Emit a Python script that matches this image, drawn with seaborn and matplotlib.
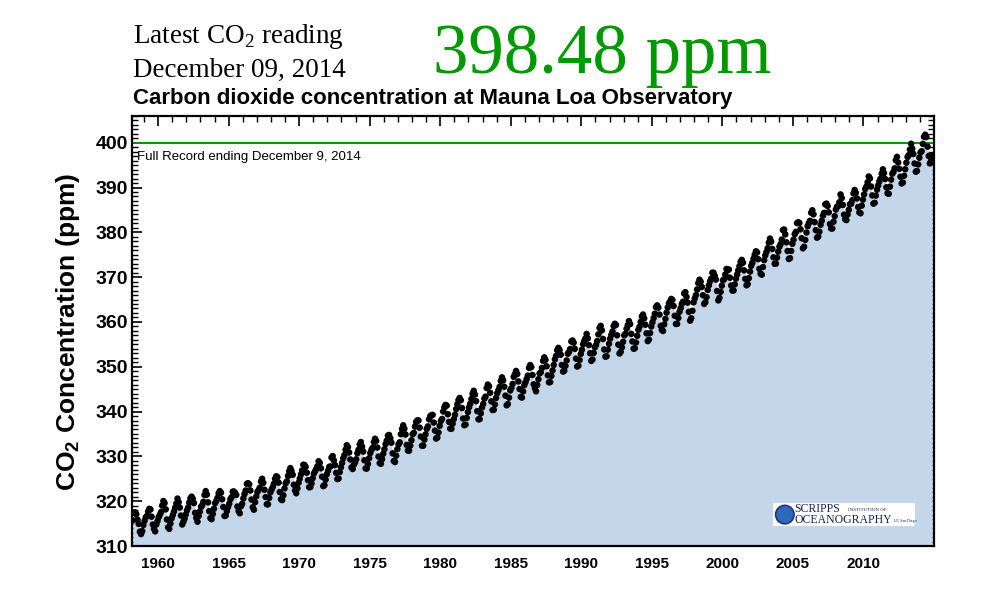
import numpy as np
import pandas as pd
import matplotlib
matplotlib.use("Agg")
import matplotlib.pyplot as plt
from matplotlib.patches import Rectangle, Ellipse
import seaborn as sns

# monthly mean CO2 at Mauna Loa (ppm), March 1958 .. November 2014
co2_ppm = [
    315.71, 317.45, 317.50, 317.10, 315.86, 314.93, 313.20, 312.66, 313.33, 314.67,  # 1958 (Mar-Dec)
    315.62, 316.38, 316.71, 317.72, 318.29, 318.15, 316.54, 314.80, 313.84, 313.26, 314.80, 315.58,
    316.43, 316.97, 317.58, 319.02, 320.03, 319.59, 318.18, 315.91, 314.16, 313.83, 315.00, 316.19,
    316.93, 317.70, 318.54, 319.48, 320.58, 319.77, 318.57, 316.79, 314.80, 315.38, 316.10, 317.01,
    317.94, 318.56, 319.68, 320.63, 321.01, 320.55, 319.58, 317.40, 316.26, 315.42, 316.69, 317.69,
    318.74, 319.08, 319.86, 321.39, 322.25, 321.47, 319.74, 317.77, 316.21, 315.99, 317.12, 318.31,
    319.57, 320.07, 320.73, 321.77, 322.25, 321.89, 320.44, 318.70, 316.70, 316.79, 317.79, 318.71,
    319.44, 320.44, 320.89, 322.13, 322.16, 321.87, 321.39, 318.81, 317.81, 317.30, 318.87, 319.42,
    320.62, 321.59, 322.39, 323.87, 324.01, 323.75, 322.39, 320.37, 318.64, 318.10, 319.79, 321.08,
    322.07, 322.50, 323.04, 324.42, 325.00, 324.09, 322.55, 320.92, 319.31, 319.31, 320.72, 321.96,
    322.57, 323.15, 323.89, 325.02, 325.57, 325.36, 324.14, 322.03, 320.41, 320.25, 321.31, 322.84,
    324.00, 324.42, 325.64, 326.66, 327.38, 326.70, 325.89, 323.67, 322.38, 321.78, 322.85, 324.11,
    325.03, 325.99, 326.87, 328.13, 328.07, 327.66, 326.35, 324.69, 323.10, 323.16, 323.98, 325.13,
    326.17, 326.68, 327.18, 327.78, 328.92, 328.57, 327.34, 325.46, 323.36, 323.57, 324.80, 326.01,
    326.77, 327.63, 327.75, 329.72, 330.07, 329.09, 328.05, 326.32, 324.93, 325.06, 326.50, 327.55,
    328.54, 329.56, 330.30, 331.50, 332.48, 332.07, 330.87, 329.31, 327.51, 327.18, 328.16, 328.64,
    329.35, 330.71, 331.48, 332.65, 333.20, 332.16, 331.07, 329.12, 327.32, 327.28, 328.30, 329.58,
    330.73, 331.46, 331.90, 333.17, 333.94, 333.45, 331.97, 329.95, 328.50, 328.34, 329.37, 330.58,
    331.59, 332.75, 333.52, 334.64, 334.77, 334.00, 333.06, 330.68, 328.95, 328.75, 330.15, 331.62,
    332.66, 333.13, 334.95, 336.13, 336.93, 336.17, 334.88, 332.56, 331.29, 331.27, 332.41, 333.60,
    334.95, 335.25, 336.66, 337.69, 338.03, 338.01, 336.41, 334.41, 332.37, 332.41, 333.75, 334.90,
    336.14, 336.69, 338.27, 338.96, 339.21, 339.26, 337.54, 335.75, 333.98, 334.19, 335.31, 336.81,
    337.90, 338.34, 340.01, 340.93, 341.48, 341.33, 339.40, 337.70, 336.19, 336.15, 337.27, 338.32,
    339.29, 340.55, 341.62, 342.53, 343.03, 342.54, 340.78, 338.44, 336.95, 337.08, 338.58, 339.88,
    340.96, 341.73, 342.81, 343.97, 344.63, 343.79, 342.32, 340.09, 338.28, 338.29, 339.60, 340.90,
    341.68, 342.90, 343.33, 345.25, 346.03, 345.63, 344.19, 342.27, 340.35, 340.38, 341.59, 343.05,
    344.10, 344.79, 345.52, 346.84, 347.63, 346.97, 345.53, 343.55, 341.40, 341.67, 343.10, 344.70,
    345.21, 346.16, 347.74, 348.34, 349.06, 348.38, 346.72, 345.02, 343.27, 343.13, 344.49, 345.88,
    346.56, 347.28, 348.01, 349.77, 350.38, 349.93, 348.16, 346.08, 345.22, 344.51, 345.93, 347.21,
    348.52, 348.73, 349.73, 351.31, 352.09, 351.53, 350.11, 348.08, 346.52, 346.59, 347.96, 349.16,
    350.39, 351.64, 352.41, 353.69, 354.21, 353.72, 352.69, 350.40, 348.92, 349.13, 350.20, 351.41,
    352.91, 353.27, 353.96, 355.64, 355.86, 355.37, 353.99, 351.81, 350.05, 350.25, 351.49, 352.85,
    353.80, 355.04, 355.73, 356.32, 357.32, 356.34, 354.84, 353.01, 351.31, 351.62, 353.07, 354.33,
    354.84, 355.73, 357.23, 358.66, 359.13, 358.13, 356.19, 353.85, 352.25, 352.35, 353.81, 355.12,
    356.25, 357.11, 357.86, 359.09, 359.59, 359.33, 357.01, 354.94, 352.96, 353.32, 354.32, 355.57,
    357.00, 357.31, 358.47, 359.27, 360.19, 359.52, 357.33, 355.64, 354.03, 354.12, 355.41, 356.91,
    358.24, 358.92, 359.99, 361.23, 361.65, 360.81, 359.38, 357.46, 355.73, 356.07, 357.53, 358.98,
    359.92, 360.86, 361.83, 363.30, 363.69, 363.19, 361.64, 359.12, 358.17, 357.99, 359.45, 360.68,
    362.07, 363.24, 364.17, 364.57, 365.13, 364.92, 363.55, 361.38, 359.54, 359.58, 360.89, 362.24,
    363.09, 364.03, 364.51, 366.35, 366.64, 365.59, 364.31, 362.25, 360.29, 360.82, 362.49, 364.38,
    365.26, 365.98, 367.24, 368.66, 369.42, 368.99, 367.82, 365.95, 364.02, 364.40, 365.52, 367.13,
    368.18, 369.07, 369.68, 370.99, 370.96, 370.30, 369.45, 366.90, 364.81, 365.37, 366.72, 368.10,
    369.29, 369.54, 370.60, 371.82, 371.58, 371.70, 369.86, 368.13, 367.00, 367.03, 368.37, 369.67,
    370.59, 371.51, 372.43, 373.37, 373.85, 373.22, 371.50, 369.61, 368.18, 368.45, 369.76, 371.24,
    372.53, 373.20, 374.12, 375.02, 375.76, 375.52, 374.01, 371.85, 370.75, 370.55, 372.25, 373.79,
    374.88, 375.64, 376.45, 377.73, 378.60, 377.93, 376.28, 374.41, 372.98, 373.00, 374.35, 375.69,
    376.79, 377.36, 378.39, 380.50, 380.62, 379.55, 377.76, 375.83, 374.05, 374.22, 375.84, 377.44,
    378.34, 379.61, 380.08, 382.05, 382.24, 382.08, 380.67, 378.67, 376.42, 376.80, 378.31, 379.96,
    381.37, 382.02, 382.56, 384.37, 384.92, 384.03, 382.28, 380.48, 378.81, 379.06, 380.14, 381.66,
    382.58, 383.71, 384.34, 386.23, 386.41, 385.87, 384.45, 381.84, 380.86, 380.86, 382.36, 383.61,
    385.07, 385.72, 385.85, 386.71, 388.45, 387.64, 386.10, 383.95, 382.91, 382.73, 383.96, 385.02,
    386.26, 386.39, 387.16, 388.67, 389.45, 388.82, 387.56, 385.65, 384.46, 384.26, 385.95, 387.30,
    388.45, 389.68, 390.20, 391.17, 392.46, 392.03, 390.22, 388.23, 386.40, 386.59, 388.19, 389.51,
    390.46, 391.33, 391.96, 393.11, 394.05, 393.21, 391.89, 390.04, 388.72, 388.59, 390.19, 391.75,
    393.09, 393.48, 394.27, 396.09, 396.84, 395.57, 394.17, 392.38, 390.90, 391.11, 392.63, 394.07,
    395.53, 396.82, 397.22, 398.47, 399.76, 398.66, 397.48, 395.35, 393.53, 393.69, 395.15, 396.64,
    397.79, 398.10, 399.74, 401.33, 401.78, 401.28, 399.11, 397.03, 395.38, 395.98, 397.12,          # 2014 (Jan-Nov)
]
first_month = "1958-03"
latest_value = "398.48 ppm"
latest_date = "December 09, 2014"
reference_level = 400
x_major = [1960, 1965, 1970, 1975, 1980, 1985, 1990, 1995, 2000, 2005, 2010]
y_major = [310, 320, 330, 340, 350, 360, 370, 380, 390, 400]

months = pd.date_range(first_month, periods=len(co2_ppm), freq="MS")
df = pd.DataFrame({
    "year": months.year + (months.month - 0.5) / 12,
    "co2": co2_ppm,
})

sns.set_theme(style="ticks", rc={"text.color": "black", "axes.labelcolor": "black",
                                 "xtick.color": "black", "ytick.color": "black"})
plt.rcParams["font.family"] = ["Liberation Sans", "DejaVu Sans"]
serif = ["Liberation Serif", "DejaVu Serif"]

fig = plt.figure(figsize=(10, 6), dpi=100)
ax = fig.add_axes([0.132, 0.09, 0.802, 0.717])

ax.fill_between(df["year"], 310, df["co2"], color="#c4d6ea", lw=0, zorder=1)
ax.axhline(reference_level, color="#009900", lw=1.4, zorder=2)
sns.scatterplot(data=df, x="year", y="co2", ax=ax, color="black", s=22,
                edgecolor="none", zorder=3, legend=False)

ax.set_xlim(1958.15, 2015.0)
ax.set_ylim(310, 406)
ax.set_xticks(x_major)
ax.set_xticks(np.arange(1959, 2015), minor=True)
ax.set_yticks(y_major)
ax.set_yticks(np.arange(310, 407), minor=True)
ax.set_xlabel("")
ax.set_ylabel(r"CO$_\mathregular{2}$ Concentration (ppm)", fontsize=19, fontweight="bold")
ax.yaxis.set_label_coords(-0.062, 0.497)

ax.tick_params(which="both", direction="in", top=True, right=True, color="black")
ax.tick_params(which="major", length=7, width=1.2)
ax.tick_params(which="minor", length=4, width=1.0)
ax.tick_params(axis="x", which="major", labelsize=11, pad=8)
ax.tick_params(axis="y", which="major", labelsize=14, pad=3)
for lab in ax.get_xticklabels() + ax.get_yticklabels():
    lab.set_fontweight("bold")
for sp in ax.spines.values():
    sp.set_linewidth(1.6)
    sp.set_color("black")
    sp.set_zorder(5)

ax.text(0.006, 0.905, "Full Record ending December 9, 2014", transform=ax.transAxes,
        fontsize=9.5, va="center", ha="left")

# Scripps logo badge
ax.add_patch(Rectangle((0.799, 0.046), 0.177, 0.054, transform=ax.transAxes,
                       facecolor="white", edgecolor="none", zorder=4))
ax.add_patch(Ellipse((0.814, 0.073), 0.023, 0.043, transform=ax.transAxes,
                     facecolor="#2a6ab8", edgecolor="#2a2f80", lw=1.2, zorder=5))
ax.text(0.826, 0.087, "SCRIPPS", transform=ax.transAxes, family=serif,
        fontsize=8.5, va="center", ha="left", zorder=6, color="#1a2550")
ax.text(0.893, 0.084, "INSTITUTION OF", transform=ax.transAxes, family=serif,
        fontsize=3.6, va="center", ha="left", zorder=6, color="#1a2550")
ax.text(0.826, 0.060, "OCEANOGRAPHY", transform=ax.transAxes, family=serif,
        fontsize=8.5, va="center", ha="left", zorder=6, color="#1a2550")
ax.text(0.950, 0.058, "UC San Diego", transform=ax.transAxes, family=serif,
        fontsize=2.8, va="center", ha="left", zorder=6, color="#1a2550")

fig.text(0.133, 0.928, r"Latest CO$_\mathregular{2}$ reading", family=serif,
         fontsize=19.5, va="baseline", ha="left")
fig.text(0.133, 0.871, latest_date, family=serif, fontsize=19.5,
         va="baseline", ha="left")
fig.text(0.433, 0.879, latest_value, family=serif, fontsize=51, color="#009900",
         va="baseline", ha="left")
fig.text(0.133, 0.826, "Carbon dioxide concentration at Mauna Loa Observatory",
         fontsize=16, fontweight="bold", va="baseline", ha="left")

fig.savefig("out.png", dpi=100, facecolor="white")
